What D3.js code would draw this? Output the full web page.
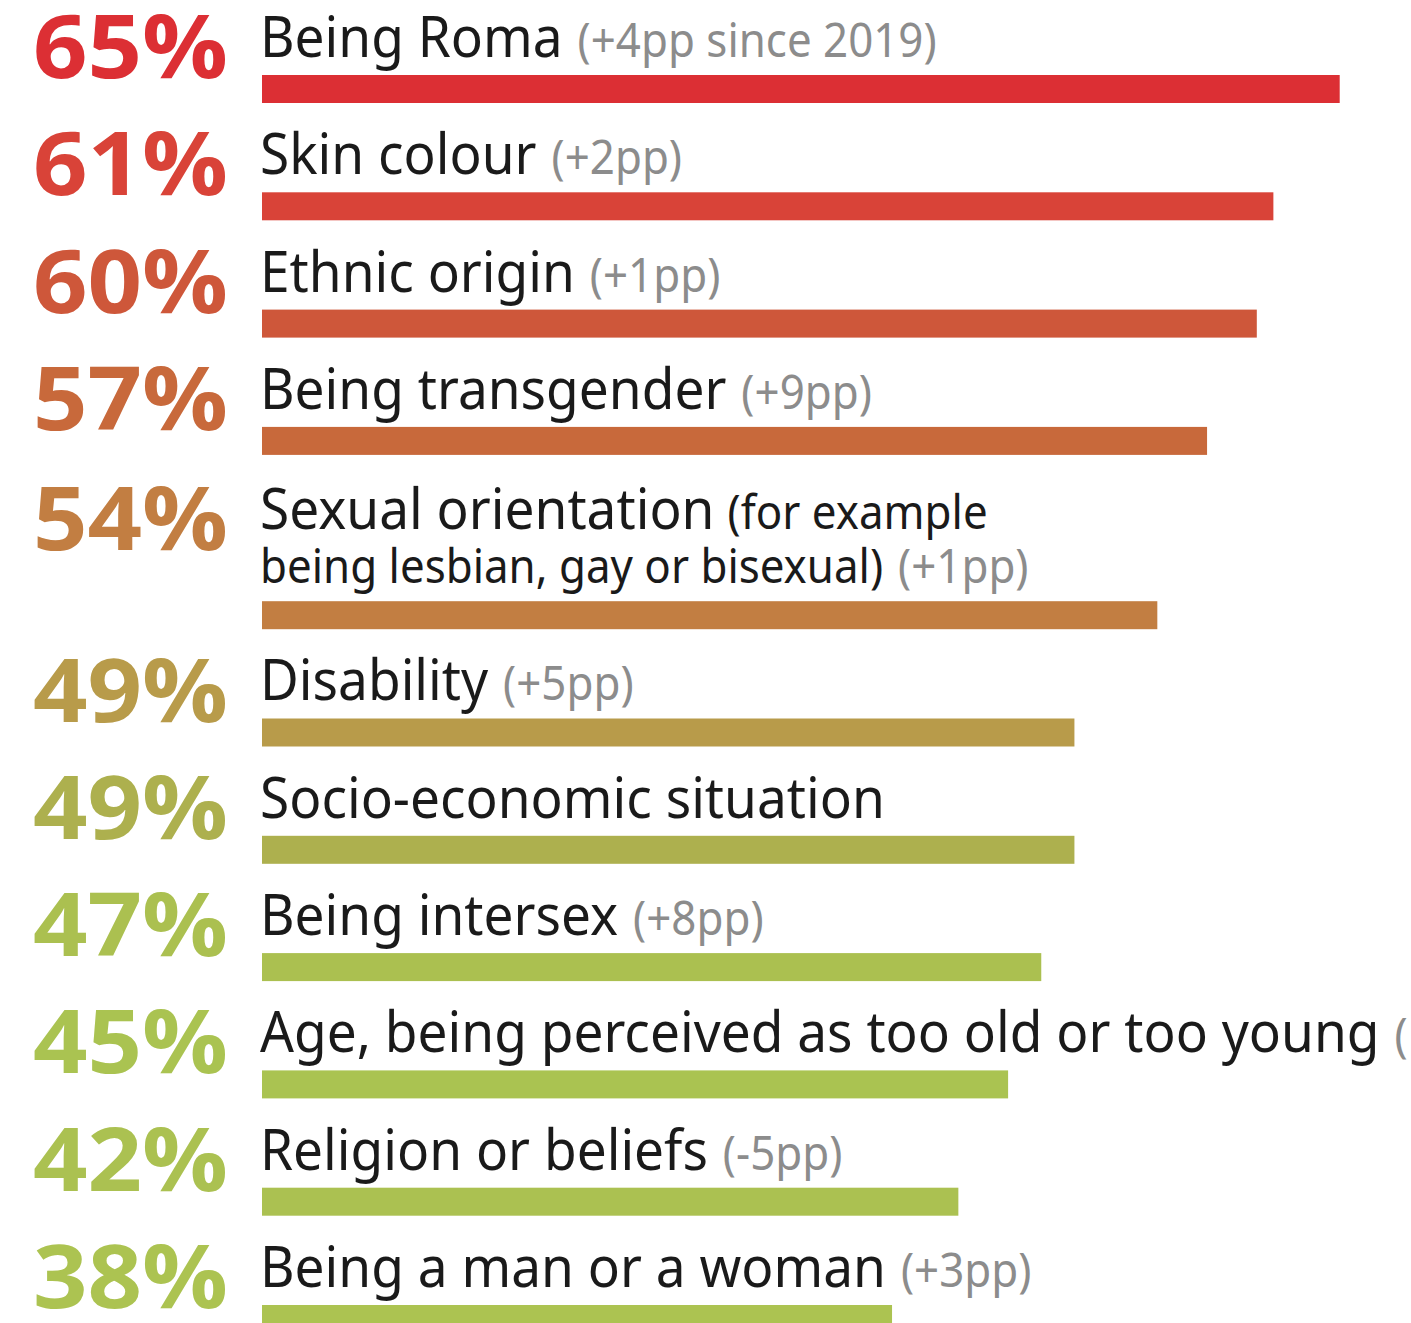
<!DOCTYPE html>
<html>
<head>
<meta charset="utf-8">
<script src="https://cdn.jsdelivr.net/npm/d3@7"></script>
<style>
  body { margin: 0; background: #fff; }
  svg { display: block; }
</style>
</head>
<body>
<svg width="1411" height="1323"></svg>
<script>
// Datos
const categories = [
  "Being Roma", "Skin colour", "Ethnic origin", "Being transgender",
  "Sexual orientation", "Disability", "Socio-economic situation",
  "Being intersex", "Age, being perceived as too old or too young",
  "Religion or beliefs", "Being a man or a woman"
];
const values = [65, 61, 60, 57, 54, 49, 49, 47, 45, 42, 38];
const changes = ["(+4pp since 2019)", "(+2pp)", "(+1pp)", "(+9pp)", "(+1pp)", "(+5pp)", "", "(+8pp)", "(", "(-5pp)", "(+3pp)"];
// texto extra (negro, más pequeño) por fila: líneas
const qualifiers = [[], [], [], [], ["(for example", "being lesbian, gay or bisexual)"], [], [], [], [], [], []];

const palette = ["#dc2f34", "#d94338", "#ce573a", "#c8693b", "#c27e42", "#b89b4a",
  "#adb04e", "#abc050", "#aac351", "#abc151", "#acc351"];

const svg = d3.select("svg");
const rows = categories.map((c, i) => ({
  cat: c, value: values[i], change: changes[i], qual: qualifiers[i], i
}));

// filas con más de una línea de texto empujan la barra propia y las siguientes
let extra = 0;
rows.forEach(d => {
  d.lines = Math.max(1, d.qual.length);
  extra += d.lines - 1;
  d.extraLines = extra;
});

const color = d3.scaleOrdinal(categories, palette);
const x = d3.scaleLinear().domain([0, 100]).range([262, 1920]);
const y = d3.scaleLinear().domain([0, 1]).range([75, 192.3]);
const lineH = 54, extraH = 57, barH = 28;
const barTop = d => y(d.i) + extraH * d.extraLines;

const g = svg.selectAll(".row").data(rows).enter().append("g").attr("class", "row");

// Barras
g.append("rect")
  .attr("x", x(0))
  .attr("y", barTop)
  .attr("width", d => x(d.value) - x(0))
  .attr("height", barH)
  .attr("fill", d => color(d.cat));

const firstBase = d => barTop(d) - 18 - lineH * (d.lines - 1);

// Porcentajes
g.append("text")
  .attr("x", 33)
  .attr("y", d => firstBase(d) + 21)
  .attr("textLength", 195)
  .attr("lengthAdjust", "spacingAndGlyphs")
  .style("font-family", "'Open Sans', 'Noto Sans', sans-serif")
  .style("font-weight", 700)
  .style("font-size", "88px")
  .attr("fill", d => color(d.cat))
  .text(d => d.value + "%");

// Etiquetas
const labels = g.append("g").attr("class", "label");
labels.each(function (d) {
  const sel = d3.select(this);
  const t1 = sel.append("text")
    .attr("x", 0)
    .attr("y", firstBase(d))
    .style("font-family", "'Noto Sans', sans-serif")
    .attr("fill", "#1a1a1a");
  t1.append("tspan").attr("class", "main").style("font-size", "57px").text(d.cat);
  if (d.qual.length > 0) {
    t1.append("tspan").attr("dx", 14).style("font-size", "47px").text(d.qual[0]);
  }
  const lastLine = d.lines === 1 ? t1 : sel.append("text")
    .attr("x", 0)
    .attr("y", firstBase(d) + lineH)
    .style("font-family", "'Noto Sans', sans-serif")
    .attr("fill", "#1a1a1a");
  if (d.lines > 1) {
    lastLine.append("tspan").style("font-size", "47px").text(d.qual[1]);
  }
  if (d.change) {
    lastLine.append("tspan").attr("dx", 16).style("font-size", "47px")
      .attr("fill", "#8c8c8c").text(d.change);
  }
});

// Compresión horizontal para imitar la tipografía estrecha
const refNode = labels.filter(d => d.i === 8).select("tspan.main").node();
const k = 1120 / refNode.getComputedTextLength();
labels.attr("transform", `translate(260,0) scale(${k},1)`);
</script>
</body>
</html>
